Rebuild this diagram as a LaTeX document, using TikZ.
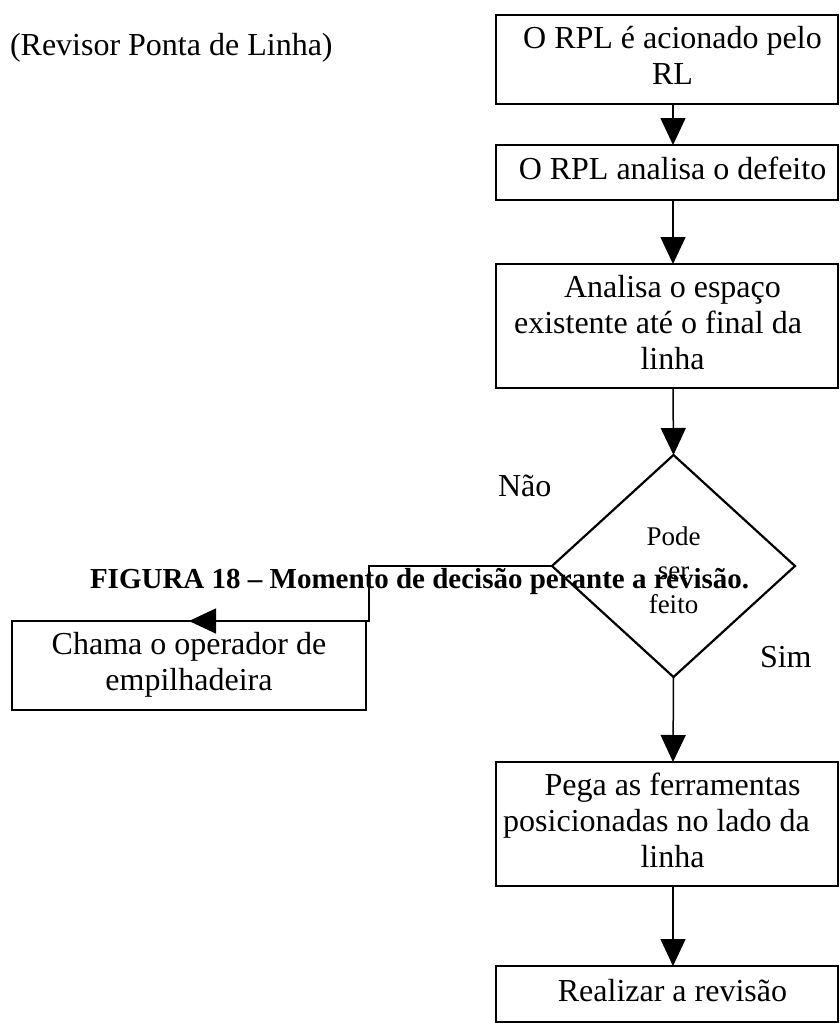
\documentclass[tikz,border=0pt]{standalone}
\usepackage{fontspec}
\setmainfont{Liberation Serif}
\usetikzlibrary{arrows.meta,shapes.geometric}
\newcommand\boxtxt[2][11pt]{\hspace*{#1}\begin{tabular}{@{}c@{}}#2\end{tabular}}
\begin{document}
\begin{tikzpicture}[x=1pt,y=-1pt,
  every node/.style={inner sep=0pt, outer sep=0pt},
  stepbox/.style={draw, line width=1.6pt, rectangle, minimum width=342pt,
     font=\fontsize{32}{36}\selectfont},
  decbox/.style={draw, line width=2.2pt, diamond, minimum width=243pt, minimum height=222pt,
     align=center, font=\fontsize{27}{34}\selectfont},
  plain/.style={font=\fontsize{32}{36}\selectfont, anchor=base west},
  conn/.style={line width=1.5pt, -{Triangle[width=25pt,length=27pt]}}
]
\useasboundingbox (0,0) rectangle (839,1023);
\coordinate (ax) at (673,0);

\node[plain] (title) at (10,55) {(Revisor Ponta de Linha)};

\node[stepbox, minimum height=89pt] (b1) at (667,59.5) {\boxtxt{O RPL é acionado pelo\\RL}};
\node[stepbox, minimum height=55pt] (b2) at (667,172.5) {\boxtxt{O RPL analisa o defeito}};
\node[stepbox, minimum height=124pt] (b3) at (667,326) {\boxtxt{Analisa o espaço\\\hspace*{-29pt}existente até o final da\\linha}};
\node[decbox] (d) at (673.5,566) {\raisebox{-7pt}[\height][\depth]{\begin{tabular}{@{}c@{}}Pode\\ser\\feito\end{tabular}}};
\node[stepbox, minimum height=124pt] (b4) at (667,824) {\boxtxt{Pega as ferramentas\\\hspace*{-32pt}posicionadas no lado da\\linha}};
\node[stepbox, minimum height=56pt] (b5) at (667,994) {\boxtxt{Realizar a revisão}};
\node[stepbox, minimum width=354pt, minimum height=89pt] (ch) at (189,665.5) {\boxtxt[0pt]{Chama o operador de\\empilhadeira}};

\node[plain] (nao) at (498,496) {Não};
\node[plain] (sim) at (760,667) {Sim};

\draw[conn] (b1.south -| ax) -- (b2.north -| ax);
\draw[conn] (b2.south -| ax) -- (b3.north -| ax);
\draw[conn] (b3.south -| ax) -- (d.north);
\draw[conn] (d.south) -- (b4.north -| ax);
\draw[conn] (b4.south -| ax) -- (b5.north -| ax);
\coordinate (k1) at (369,566);
\draw[conn] (d.west) -- (k1) |- (ch.north);

\node[font=\bfseries\fontsize{29}{33}\selectfont, anchor=base west] (cap) at (90,588) {FIGURA 18 – Momento de decisão perante a revisão.};
\end{tikzpicture}
\end{document}
